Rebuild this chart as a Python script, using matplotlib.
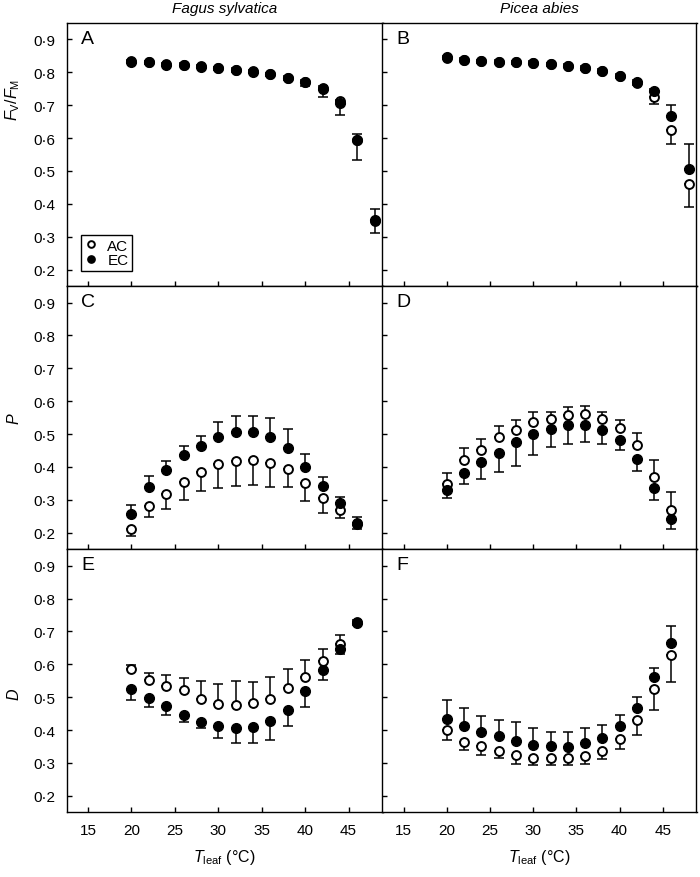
import numpy as np
import matplotlib
matplotlib.use("Agg")
import matplotlib.pyplot as plt

plt.rcParams['font.family'] = ['Liberation Sans', 'DejaVu Sans']
plt.rcParams['mathtext.fontset'] = 'custom'
plt.rcParams['mathtext.rm'] = 'Liberation Sans'
plt.rcParams['mathtext.it'] = 'Liberation Sans:italic'

# temperatures (°C)
t_a = [20, 22, 24, 26, 28, 30, 32, 34, 36, 38, 40, 42, 44, 46, 48]
t_c = [20, 22, 24, 26, 28, 30, 32, 34, 36, 38, 40, 42, 44, 46]

# A: Fagus sylvatica, Fv/Fm
a_ac = [0.833, 0.831, 0.824, 0.823, 0.818, 0.812, 0.807, 0.803, 0.795, 0.784, 0.772, 0.752, 0.712, 0.595, 0.348]
a_ac_err = [0.005, 0.005, 0.005, 0.005, 0.005, 0.005, 0.005, 0.005, 0.006, 0.007, 0.015, 0.027, 0.042, 0.063, 0.036]
a_ec = [0.832, 0.830, 0.823, 0.822, 0.817, 0.812, 0.807, 0.802, 0.794, 0.783, 0.770, 0.749, 0.707, 0.594, 0.350]
a_ec_err = [0.005, 0.005, 0.005, 0.005, 0.005, 0.005, 0.005, 0.005, 0.005, 0.005, 0.006, 0.008, 0.010, 0.018, 0.034]

# B: Picea abies, Fv/Fm
b_ac = [0.845, 0.838, 0.833, 0.831, 0.830, 0.828, 0.824, 0.819, 0.813, 0.804, 0.789, 0.768, 0.725, 0.626, 0.460]
b_ac_err = [0.004, 0.004, 0.004, 0.004, 0.004, 0.004, 0.004, 0.004, 0.005, 0.005, 0.006, 0.008, 0.020, 0.045, 0.071]
b_ec = [0.846, 0.839, 0.834, 0.832, 0.831, 0.829, 0.825, 0.820, 0.814, 0.805, 0.790, 0.770, 0.742, 0.667, 0.507]
b_ec_err = [0.004, 0.004, 0.004, 0.004, 0.004, 0.004, 0.004, 0.004, 0.005, 0.005, 0.005, 0.006, 0.008, 0.033, 0.075]

# C: Fagus sylvatica, P
c_ac = [0.212, 0.280, 0.318, 0.353, 0.386, 0.408, 0.417, 0.422, 0.413, 0.394, 0.350, 0.306, 0.268, 0.229]
c_ac_err = [0.021, 0.031, 0.045, 0.053, 0.058, 0.072, 0.075, 0.077, 0.073, 0.056, 0.053, 0.046, 0.023, 0.018]
c_ec = [0.258, 0.340, 0.390, 0.436, 0.464, 0.492, 0.505, 0.505, 0.492, 0.459, 0.400, 0.341, 0.290, 0.227]
c_ec_err = [0.027, 0.032, 0.029, 0.029, 0.029, 0.046, 0.049, 0.049, 0.057, 0.056, 0.039, 0.028, 0.018, 0.020]

# D: Picea abies, P
d_ac = [0.349, 0.420, 0.453, 0.490, 0.511, 0.536, 0.546, 0.557, 0.561, 0.547, 0.520, 0.467, 0.369, 0.269]
d_ac_err = [0.032, 0.037, 0.033, 0.035, 0.033, 0.030, 0.022, 0.025, 0.025, 0.019, 0.023, 0.035, 0.052, 0.054]
d_ec = [0.330, 0.381, 0.416, 0.444, 0.475, 0.501, 0.515, 0.527, 0.527, 0.512, 0.483, 0.424, 0.335, 0.242]
d_ec_err = [0.025, 0.032, 0.054, 0.059, 0.072, 0.064, 0.053, 0.056, 0.052, 0.042, 0.032, 0.035, 0.035, 0.031]

# E: Fagus sylvatica, D
e_ac = [0.585, 0.553, 0.533, 0.522, 0.493, 0.480, 0.477, 0.482, 0.494, 0.527, 0.561, 0.610, 0.661, 0.728]
e_ac_err = [0.013, 0.020, 0.035, 0.037, 0.056, 0.060, 0.071, 0.065, 0.067, 0.058, 0.053, 0.036, 0.029, 0.006]
e_ec = [0.525, 0.497, 0.472, 0.446, 0.424, 0.412, 0.407, 0.409, 0.428, 0.461, 0.519, 0.582, 0.648, 0.727]
e_ec_err = [0.033, 0.026, 0.026, 0.021, 0.019, 0.035, 0.045, 0.047, 0.057, 0.050, 0.050, 0.031, 0.017, 0.006]

# F: Picea abies, D
f_ac = [0.401, 0.365, 0.352, 0.336, 0.325, 0.316, 0.315, 0.315, 0.320, 0.337, 0.372, 0.432, 0.525, 0.628]
f_ac_err = [0.031, 0.027, 0.027, 0.022, 0.028, 0.022, 0.022, 0.022, 0.023, 0.025, 0.030, 0.047, 0.065, 0.083]
f_ec = [0.435, 0.411, 0.395, 0.383, 0.368, 0.356, 0.352, 0.349, 0.361, 0.375, 0.413, 0.467, 0.562, 0.666]
f_ec_err = [0.057, 0.057, 0.047, 0.047, 0.056, 0.051, 0.043, 0.044, 0.046, 0.041, 0.033, 0.034, 0.026, 0.051]

species = ['Fagus sylvatica', 'Picea abies']
row_labels = [r'$F_{\mathrm{V}}/F_{\mathrm{M}}$', r'$P$', r'$D$']
row_label_pos = [0.71, 0.5, 0.45]
panel_letters = ['A', 'B', 'C', 'D', 'E', 'F']
yticks = [0.2, 0.3, 0.4, 0.5, 0.6, 0.7, 0.8, 0.9]
ytick_labels = ['0·2', '0·3', '0·4', '0·5', '0·6', '0·7', '0·8', '0·9']
xticks = [15, 20, 25, 30, 35, 40, 45]
xtick_labels = ['15', '20', '25', '30', '35', '40', '45']

# (x, AC, AC err, AC bar side, EC, EC err, EC bar side)
panels = [
    (t_a, a_ac, a_ac_err, 'down', a_ec, a_ec_err, 'up'),
    (t_a, b_ac, b_ac_err, 'down', b_ec, b_ec_err, 'up'),
    (t_c, c_ac, c_ac_err, 'down', c_ec, c_ec_err, 'up'),
    (t_c, d_ac, d_ac_err, 'up', d_ec, d_ec_err, 'down'),
    (t_c, e_ac, e_ac_err, 'up', e_ec, e_ec_err, 'down'),
    (t_c, f_ac, f_ac_err, 'down', f_ec, f_ec_err, 'up'),
]

W, H = 700, 878
fig = plt.figure(figsize=(W / 100, H / 100), dpi=100)

left_px = [66.7, 382.5]
width_px = [315.8, 314.0]
top_px = 24.0
row_h = 263.1


def one_sided(err, side):
    err = np.asarray(err)
    zero = np.zeros_like(err)
    return [zero, err] if side == 'up' else [err, zero]


for i, (x, ac, ac_err, ac_side, ec, ec_err, ec_side) in enumerate(panels):
    row, col = divmod(i, 2)
    l = left_px[col] / W
    b = 1 - (top_px + (row + 1) * row_h) / H
    ax = fig.add_axes([l, b, width_px[col] / W, row_h / H])

    ax.errorbar(x, ac, yerr=one_sided(ac_err, ac_side), fmt='none', ecolor='black',
                elinewidth=1.1, capsize=3.5, capthick=1.1, zorder=2)
    ax.errorbar(x, ec, yerr=one_sided(ec_err, ec_side), fmt='none', ecolor='black',
                elinewidth=1.1, capsize=3.5, capthick=1.1, zorder=2)
    ax.plot(x, ac, 'o', ms=6.4, mfc='white', mec='black', mew=1.4, ls='none',
            label='AC', zorder=3)
    ax.plot(x, ec, 'o', ms=7.0, mfc='black', mec='black', ls='none',
            label='EC', zorder=4)

    ax.set_xlim(12.55, 48.9)
    ax.set_ylim(0.15, 0.95)
    ax.set_xticks(xticks)
    ax.set_yticks(yticks)
    ax.tick_params(direction='in', length=3.5, width=1, labelsize=11, pad=8,
                   top=False, right=False)
    if col == 0:
        ax.set_yticklabels(ytick_labels)
        ax.set_ylabel(row_labels[row], fontsize=11.5)
        ax.yaxis.set_label_coords(-0.142, row_label_pos[row])
    else:
        ax.set_yticklabels([])
    if row == 2:
        ax.set_xticklabels(xtick_labels)
    else:
        ax.set_xticklabels([])
    for s in ax.spines.values():
        s.set_linewidth(1.0)

    ax.text(0.045, 0.94, panel_letters[i], transform=ax.transAxes,
            fontsize=14, ha='left', va='center')

    if i == 0:
        leg = ax.legend(loc='lower left', bbox_to_anchor=(0.044, 0.058),
                        borderaxespad=0, fontsize=11, handlelength=0.8,
                        handletextpad=0.7, labelspacing=0.02, borderpad=0.25,
                        fancybox=False, edgecolor='black', framealpha=1,
                        markerscale=0.75)
        leg.get_frame().set_linewidth(1.0)

for col in range(2):
    cx = (left_px[col] + width_px[col] / 2) / W
    fig.text(cx, 1 - 9 / H, species[col], style='italic', fontsize=11,
             ha='center', va='center')
    fig.text(cx, 1 - 858 / H, r'$T_{\mathrm{leaf}}$ (°C)', fontsize=11.5,
             ha='center', va='center')

fig.savefig('out.png', dpi=100)
